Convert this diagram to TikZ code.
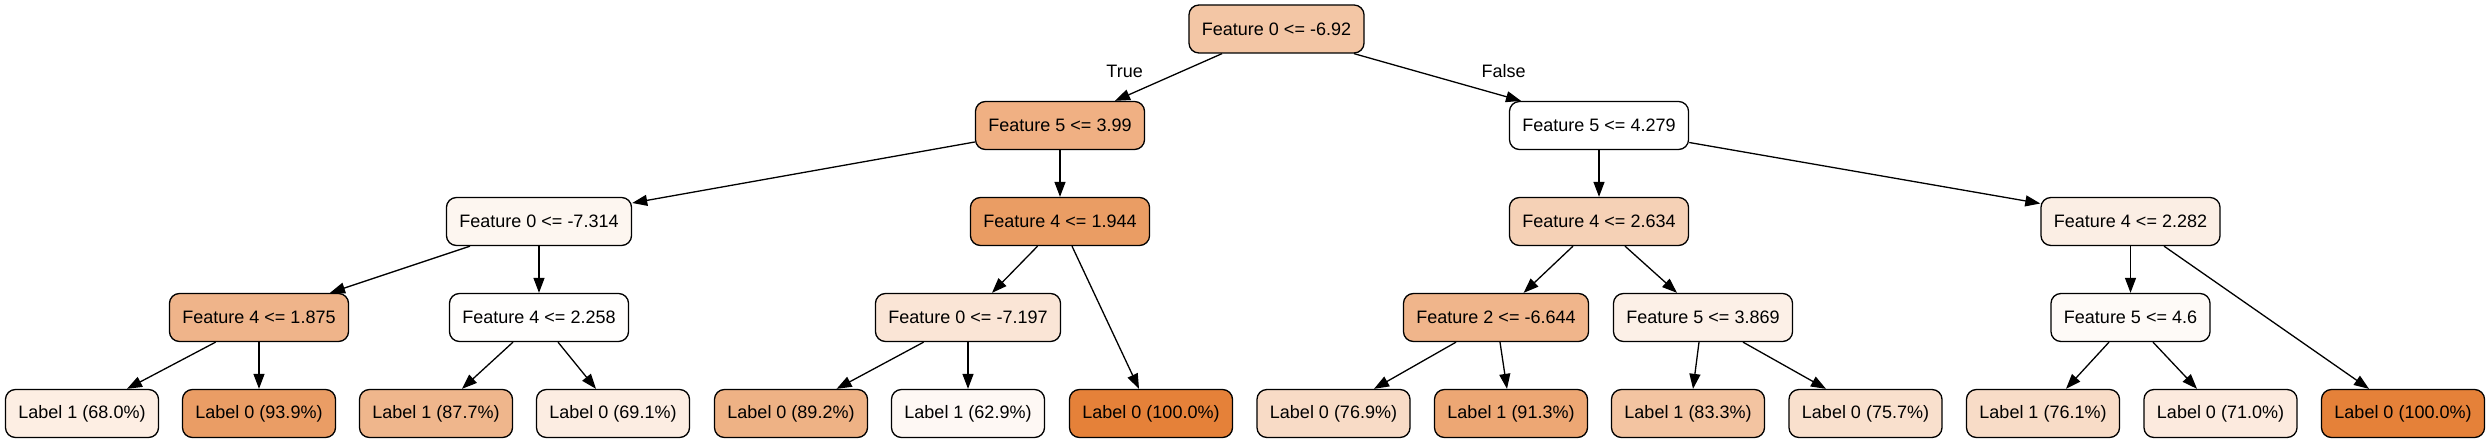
\documentclass[tikz,border=0pt]{standalone}
\usepackage{fontspec}
\setmainfont{Liberation Sans}
\usetikzlibrary{arrows.meta,calc}
\definecolor{cRoot}{HTML}{F3C6A5}
\definecolor{cFa}{HTML}{F0B083}
\definecolor{cFb}{HTML}{FFFFFF}
\definecolor{cFc}{HTML}{FDF6F0}
\definecolor{cFd}{HTML}{EA9D64}
\definecolor{cFe}{HTML}{F5D1B6}
\definecolor{cFf}{HTML}{FBEEE4}
\definecolor{cFg}{HTML}{EFB48A}
\definecolor{cFh}{HTML}{FFFEFD}
\definecolor{cFi}{HTML}{FAE5D6}
\definecolor{cFj}{HTML}{F0B58B}
\definecolor{cFk}{HTML}{FCF0E7}
\definecolor{cFl}{HTML}{FEFAF7}
\definecolor{cLa}{HTML}{FDEEE3}
\definecolor{cLb}{HTML}{EA9D65}
\definecolor{cLc}{HTML}{EFB68C}
\definecolor{cLd}{HTML}{FCEDE2}
\definecolor{cLe}{HTML}{EEB285}
\definecolor{cLf}{HTML}{FEF8F4}
\definecolor{cLg}{HTML}{E58139}
\definecolor{cLh}{HTML}{F8DBC6}
\definecolor{cLi}{HTML}{EDA774}
\definecolor{cLj}{HTML}{F3C4A1}
\definecolor{cLk}{HTML}{F9E0CD}
\definecolor{cLl}{HTML}{F8DCC7}
\definecolor{cLm}{HTML}{FCEADE}
\definecolor{cLn}{HTML}{E58139}
\tikzset{
  nd/.style={draw, rounded corners=10pt, minimum height=48pt, inner xsep=13pt,
    line width=1.3pt, font=\fontsize{18}{21}\selectfont},
  edge/.style={line width=1.3pt, -{Triangle[length=15pt,width=11pt]}},
  elabel/.style={font=\fontsize{18}{21}\selectfont}
}
\begin{document}
\begin{tikzpicture}[x=1pt,y=-1pt]
\useasboundingbox (0,0) rectangle (2490,443);
% level 0
\node[nd, fill=cRoot] (root) at (1276.5,29) {Feature 0 <= -6.92};
% level 1
\node[nd, fill=cFa] (f5a) at (1060,125.5) {Feature 5 <= 3.99};
\node[nd, fill=cFb] (f5b) at (1599,125.5) {Feature 5 <= 4.279};
% level 2
\node[nd, fill=cFc] (f0a) at (539,221.5) {Feature 0 <= -7.314};
\node[nd, fill=cFd] (f4a) at (1060,221.5) {Feature 4 <= 1.944};
\node[nd, fill=cFe] (f4b) at (1599,221.5) {Feature 4 <= 2.634};
\node[nd, fill=cFf] (f4c) at (2130.5,221.5) {Feature 4 <= 2.282};
% level 3
\node[nd, fill=cFg] (f4d) at (259,317.5) {Feature 4 <= 1.875};
\node[nd, fill=cFh] (f4e) at (539,317.5) {Feature 4 <= 2.258};
\node[nd, fill=cFi] (f0b) at (968,317.5) {Feature 0 <= -7.197};
\node[nd, fill=cFj] (f2)  at (1496,317.5) {Feature 2 <= -6.644};
\node[nd, fill=cFk] (f5c) at (1703,317.5) {Feature 5 <= 3.869};
\node[nd, fill=cFl] (f5d) at (2130.5,317.5) {Feature 5 <= 4.6};
% leaves
\node[nd, fill=cLa] (la) at (82,413.5) {Label 1 (68.0\%)};
\node[nd, fill=cLb] (lb) at (259,413.5) {Label 0 (93.9\%)};
\node[nd, fill=cLc] (lc) at (436,413.5) {Label 1 (87.7\%)};
\node[nd, fill=cLd] (ld) at (613,413.5) {Label 0 (69.1\%)};
\node[nd, fill=cLe] (le) at (791,413.5) {Label 0 (89.2\%)};
\node[nd, fill=cLf] (lf) at (968,413.5) {Label 1 (62.9\%)};
\node[nd, fill=cLg] (lg) at (1151,413.5) {Label 0 (100.0\%)};
\node[nd, fill=cLh] (lh) at (1333.5,413.5) {Label 0 (76.9\%)};
\node[nd, fill=cLi] (li) at (1511,413.5) {Label 1 (91.3\%)};
\node[nd, fill=cLj] (lj) at (1688,413.5) {Label 1 (83.3\%)};
\node[nd, fill=cLk] (lk) at (1865.5,413.5) {Label 0 (75.7\%)};
\node[nd, fill=cLl] (ll) at (2043,413.5) {Label 1 (76.1\%)};
\node[nd, fill=cLm] (lm) at (2220.5,413.5) {Label 0 (71.0\%)};
\node[nd, fill=cLn] (ln) at (2403,413.5) {Label 0 (100.0\%)};
% edge labels
\node[elabel] (ltrue) at (1124.6,71) {True};
\node[elabel] (lfalse) at (1503.5,71) {False};
% edges
\draw[edge] ($(root.south)+(-54.5,0)$) -- ($(f5a.north)+(55,0)$);
\draw[edge] ($(root.south)+(77.5,0)$) -- ($(f5b.north)+(-78,0)$);
\draw[edge] ($(f5a.west)+(0,16.5)$) -- ($(f0a.east)+(0,-18.5)$);
\draw[edge] (f5a.south) -- (f4a.north);
\draw[edge] (f5b.south) -- (f4b.north);
\draw[edge] ($(f5b.east)+(0,17)$) -- ($(f4c.west)+(0,-18)$);
\draw[edge] ($(f0a.south)+(-69,0)$) -- ($(f4d.north)+(71,0)$);
\draw[edge] (f0a.south) -- (f4e.north);
\draw[edge] ($(f4d.south)+(-43.4,0)$) -- ($(la.north)+(45,0)$);
\draw[edge] (f4d.south) -- (lb.north);
\draw[edge] ($(f4e.south)+(-26,0)$) -- ($(lc.north)+(26,0)$);
\draw[edge] ($(f4e.south)+(19,0)$) -- ($(ld.north)+(-17,0)$);
\draw[edge] ($(f4a.south)+(-22.4,0)$) -- ($(f0b.north)+(24,0)$);
\draw[edge] ($(f4a.south)+(12,0)$) -- ($(lg.north)+(-12,0)$);
\draw[edge] ($(f0b.south)+(-44.4,0)$) -- ($(le.north)+(45.6,0)$);
\draw[edge] (f0b.south) -- (lf.north);
\draw[edge] ($(f4b.south)+(-26,0)$) -- ($(f2.north)+(27.6,0)$);
\draw[edge] ($(f4b.south)+(26,0)$) -- ($(f5c.north)+(-26,0)$);
\draw[edge] ($(f2.south)+(-40,0)$) -- ($(lh.north)+(40.5,0)$);
\draw[edge] ($(f2.south)+(4,0)$) -- ($(li.north)+(-4,0)$);
\draw[edge] ($(f5c.south)+(-4,0)$) -- ($(lj.north)+(5,0)$);
\draw[edge] ($(f5c.south)+(40,0)$) -- ($(lk.north)+(-39.5,0)$);
\draw[edge] (f4c.south) -- (f5d.north);
\draw[edge] ($(f4c.south)+(33.5,0)$) -- ($(ln.north)+(-34,0)$);
\draw[edge] ($(f5d.south)+(-21.5,0)$) -- ($(ll.north)+(23,0)$);
\draw[edge] ($(f5d.south)+(22.5,0)$) -- ($(lm.north)+(-23.5,0)$);
\end{tikzpicture}
\end{document}
